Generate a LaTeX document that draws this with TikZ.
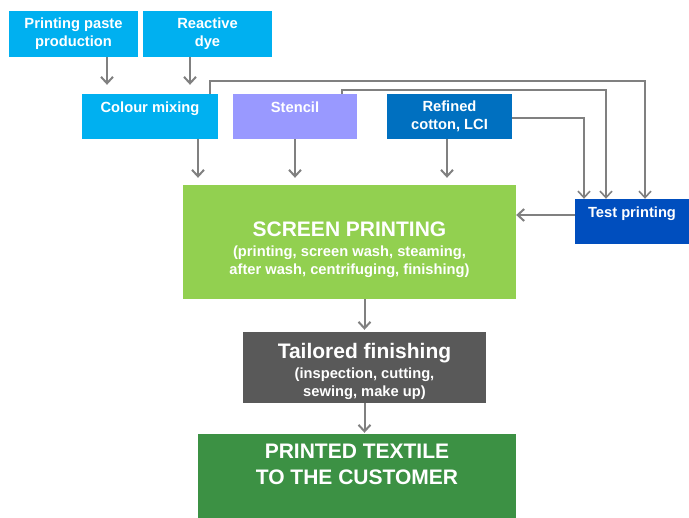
\documentclass[tikz,border=0pt]{standalone}
\usepackage{fontspec}
\setmainfont{Liberation Sans}
\usetikzlibrary{arrows.meta}
\definecolor{skyblue}{HTML}{00B0F0}
\definecolor{lilac}{HTML}{9999FF}
\definecolor{cottonblue}{HTML}{0070C0}
\definecolor{testblue}{HTML}{004EBE}
\definecolor{screengreen}{HTML}{92D050}
\definecolor{darkgray}{HTML}{595959}
\definecolor{textilegreen}{HTML}{3C9144}
\definecolor{linegray}{HTML}{808080}

\begin{document}
\begin{tikzpicture}[x=1pt, y=-1pt,
	every node/.style={font=\bfseries\fontsize{14.7}{18}\selectfont, text=white, align=center, inner sep=0pt},
	box/.style={fill=#1},
	big/.style={font=\bfseries\fontsize{21}{26}\selectfont},
	arr/.style={->, draw=linegray, line width=2pt},
	loop/.style={->, draw=linegray, line width=1.6pt},
	>={Straight Barb[length=6.5pt, width=12pt]}]
	\useasboundingbox (0,0) rectangle (689,518);
	\node[box=skyblue, minimum width=129, minimum height=46] (paste) at (73.5,34) {Printing paste\\production};
	\node[box=skyblue, minimum width=129, minimum height=46] (dye) at (207.5,34) {Reactive\\dye};
	\node[box=skyblue, minimum width=136, minimum height=45] (mix) at (150,116.5) {Colour mixing\\\mbox{}};
	\node[box=lilac, minimum width=124, minimum height=45] (stencil) at (295,116.5) {Stencil\\\mbox{}};
	\node[box=cottonblue, minimum width=125, minimum height=45] (cotton) at (449.5,116.5) {Refined\\cotton, LCI};
	\node[box=testblue, minimum width=114, minimum height=45] (test) at (632,221.5) {Test printing\\\mbox{}};
	\node[box=screengreen, minimum width=333, minimum height=114] (screen) at (349.5,242) {};
	\node[anchor=north] (screen-t) at (349.5,221.5) {{\fontsize{21}{24}\selectfont SCREEN PRINTING}\\[2pt](printing, screen wash, steaming,\\after wash, centrifuging, finishing)};
	\node[box=darkgray, minimum width=243, minimum height=71] (tailor) at (364.5,367.5) {};
	\node[anchor=north] (tailor-t) at (364.5,343.4) {{\fontsize{21}{24}\selectfont Tailored finishing}\\[2pt](inspection, cutting,\\sewing, make up)};
	\node[box=textilegreen, minimum width=318, minimum height=84] (textile) at (357,476) {};
	\node[big, anchor=north] (textile-t) at (357,444.3) {PRINTED TEXTILE\\TO THE CUSTOMER};

	\draw[arr, shorten >=9pt] ([xshift=33.5pt]paste.south) -- ([xshift=33.5pt]paste.south |- mix.north);
	\draw[arr, shorten >=9pt] ([xshift=-17.5pt]dye.south) -- ([xshift=-17.5pt]dye.south |- mix.north);
	\draw[arr, shorten >=7pt] ([xshift=48pt]mix.south) -- ([xshift=48pt]mix.south |- screen.north);
	\draw[arr, shorten >=7pt] (stencil.south) -- (stencil.south |- screen.north);
	\draw[arr, shorten >=7pt] ([xshift=-2.5pt]cotton.south) -- ([xshift=-2.5pt]cotton.south |- screen.north);
	\draw[arr, shorten >=2pt] (tailor.north |- screen.south) -- (tailor.north);
	\draw[arr, shorten >=1pt] (tailor.south) -- (tailor.south |- textile.north);
	\draw[arr] ([yshift=6.5pt]test.west) -- ([yshift=6.5pt]test.west -| screen.east);

	\draw[loop] ([xshift=60pt]mix.north) -- ++(0,-12.5) -| ([xshift=13pt]test.north);
	\draw[loop] ([xshift=47pt]stencil.north) -- ++(0,-3.5) -| ([xshift=-26pt]test.north);
	\draw[loop] ([yshift=-1.5pt]cotton.east) -| ([xshift=-48pt]test.north);
\end{tikzpicture}
\end{document}
